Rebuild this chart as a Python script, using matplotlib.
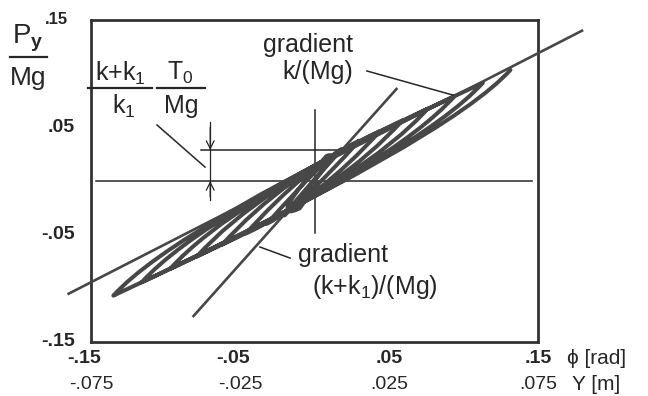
import matplotlib
matplotlib.use("agg")
import matplotlib.pyplot as plt
from matplotlib.path import Path
from matplotlib.patches import PathPatch
from matplotlib.transforms import offset_copy

plt.rcParams['font.family'] = ['Liberation Sans', 'DejaVu Sans']
plt.rcParams['mathtext.fontset'] = 'custom'
plt.rcParams['mathtext.rm'] = 'Liberation Sans'
plt.rcParams['mathtext.it'] = 'Liberation Sans'
plt.rcParams['mathtext.bf'] = 'Liberation Sans:bold'

# reversal points of the hysteresis loop (phi [rad], Py/Mg)
upper_tip_x = [0.1315, 0.113, 0.094, 0.076, 0.059, 0.044, 0.030, 0.018, 0.008]
upper_tip_y = [0.1035, 0.0915, 0.079, 0.0674, 0.0564, 0.0466, 0.0375, 0.0297, 0.0232]
lower_tip_x = [-0.135, -0.116, -0.097, -0.079, -0.062, -0.046, -0.032, -0.020, -0.010]
lower_tip_y = [-0.1068, -0.0944, -0.082, -0.0704, -0.0593, -0.0489, -0.0398, -0.032, -0.0255]
rest_x, rest_y = 0.002, -0.002   # where the motion dies out
band_slope = 0.65   # slope of the band edges

# gradient lines (end points)
k_line_x = [-0.165, 0.1795]
k_line_y = [-0.105, 0.140]
kk1_line_x = [-0.0812, 0.0550]
kk1_line_y = [-0.1258, 0.0857]

# T0 offset level
t0_level = 0.0289

xtick_rad = [-0.15, -0.05, 0.05, 0.15]
xtick_rad_lbl = ["-.15", "-.05", ".05", ".15"]
xtick_m_lbl = ["-.075", "-.025", ".025", ".075"]
ytick_pos = [0.05, -0.05, -0.15]
ytick_lbl = [".05", "-.05", "-.15"]

grey = "#474747"
ink = "#262626"

fig = plt.figure(figsize=(6.48, 3.96), dpi=100)
ax = fig.add_axes([91 / 648, 54 / 396, 447 / 648, 322 / 396])
ax.set_xlim(-0.15, 0.15)
ax.set_ylim(-0.15, 0.15)
ax.set_xticks([])
ax.set_yticks([])
for sp in ax.spines.values():
    sp.set_linewidth(2.0)
    sp.set_color("#333333")


def px(x, y):
    return x / 648, 1 - y / 396


# reference lines
ax.plot([-0.1467, 0.146], [0, 0], color=ink, lw=1.1, zorder=1)
ax.plot([-0.0765, 0.017], [t0_level, t0_level], color=ink, lw=1.1, zorder=1)
ax.plot([0, 0], [0.066, -0.048], color=ink, lw=1.1, zorder=1)

# arrows marking the offset
ax.plot([-0.070, -0.070], [0.055, -0.018], color=ink, lw=0.9, zorder=1)
ax.annotate("", xy=(-0.070, t0_level), xytext=(-0.070, 0.050),
            arrowprops=dict(arrowstyle="->", lw=0.9, color=ink, shrinkA=0, shrinkB=0,
                            mutation_scale=14))
ax.annotate("", xy=(-0.070, 0.0), xytext=(-0.070, -0.015),
            arrowprops=dict(arrowstyle="->", lw=0.9, color=ink, shrinkA=0, shrinkB=0,
                            mutation_scale=14))

# hysteresis loop: branch from one reversal to the next, stiff slope first then band slope
s_kk1 = (kk1_line_y[1] - kk1_line_y[0]) / (kk1_line_x[1] - kk1_line_x[0])

tips = []
for i in range(len(upper_tip_x)):
    tips.append((upper_tip_x[i], upper_tip_y[i]))
    tips.append((lower_tip_x[i], lower_tip_y[i]))

verts = [tips[0]]
codes = [Path.MOVETO]
for (xa, ya), (xb, yb) in zip(tips[:-1], tips[1:]):
    xk = (yb - band_slope * xb - ya + s_kk1 * xa) / (s_kk1 - band_slope)
    yk = ya + s_kk1 * (xk - xa)
    verts += [(xk, yk), (xb, yb)]
    codes += [Path.CURVE3, Path.CURVE3]
verts.append((rest_x, rest_y))
codes.append(Path.LINETO)
loop = PathPatch(Path(verts, codes), fill=False, edgecolor=grey, lw=2.9,
                 joinstyle="round", capstyle="round", zorder=2)
ax.add_patch(loop)

# gradient lines
ax.plot(k_line_x, k_line_y, color=grey, lw=1.9, zorder=3, clip_on=False)
ax.plot(kk1_line_x, kk1_line_y, color=grey, lw=1.9, zorder=3)

# leader lines
ax.plot([-0.1057, -0.0735], [0.0522, 0.0130], color=ink, lw=1.1, zorder=3)
ax.plot([0.0352, 0.093], [0.1025, 0.080], color=ink, lw=1.1, zorder=3)
ax.plot([-0.0366, -0.0164], [-0.0615, -0.0718], color=ink, lw=1.1, zorder=3)

# tick labels (minus sign hangs to the left of the tick)
xtr = ax.get_xaxis_transform()
for xv, l1, l2 in zip(xtick_rad, xtick_rad_lbl, xtick_m_lbl):
    tr = offset_copy(xtr, fig=fig, x=-5 if l1.startswith("-") else 0, units="points")
    ax.text(xv, -0.05, l1, transform=tr, ha="center", va="center",
            fontsize=14, fontweight="bold", color=ink)
    ax.text(xv, -0.1335, l2, transform=xtr, ha="center", va="center",
            fontsize=14, color=ink)
for yv, lb in zip(ytick_pos, ytick_lbl):
    ax.text(-0.036, yv, lb, transform=ax.get_yaxis_transform(), ha="right", va="center",
            fontsize=14, fontweight="bold", color=ink)
fig.text(*px(68, 19), ".15", ha="right", va="center", fontsize=12, fontweight="bold", color=ink)

fig.text(*px(567, 358), "ϕ [rad]", ha="left", va="center", fontsize=15, color=ink)
fig.text(*px(572, 385), "Y [m]", ha="left", va="center", fontsize=15, color=ink)

# y axis label as fraction
fig.text(*px(28, 38), r"P$_\mathbf{y}$", ha="center", va="center", fontsize=20, color=ink)
fig.add_artist(plt.Line2D([10 / 648, 47 / 648], [1 - 57 / 396] * 2, color=ink, lw=1.6))
fig.text(*px(28, 78), "Mg", ha="center", va="center", fontsize=19, color=ink)

# offset label (k+k1)/k1 * T0/Mg
fig.text(*px(120, 73), r"k+k$_1$", ha="center", va="center", fontsize=18, color=ink)
fig.add_artist(plt.Line2D([88 / 648, 152 / 648], [1 - 88 / 396] * 2, color=ink, lw=1.6))
fig.text(*px(124, 106), r"k$_1$", ha="center", va="center", fontsize=18, color=ink)
fig.text(*px(180, 73), r"T$_0$", ha="center", va="center", fontsize=18, color=ink)
fig.add_artist(plt.Line2D([157 / 648, 205 / 648], [1 - 88 / 396] * 2, color=ink, lw=1.6))
fig.text(*px(181, 106), "Mg", ha="center", va="center", fontsize=18, color=ink)

# gradient labels
fig.text(*px(353, 45), "gradient", ha="right", va="center", fontsize=18, color=ink)
fig.text(*px(353, 72), "k/(Mg)", ha="right", va="center", fontsize=18, color=ink)
fig.text(*px(298, 255), "gradient", ha="left", va="center", fontsize=18, color=ink)
fig.text(*px(312, 287), r"(k+k$_1$)/(Mg)", ha="left", va="center", fontsize=18, color=ink)

fig.savefig("out.png", dpi=100)
